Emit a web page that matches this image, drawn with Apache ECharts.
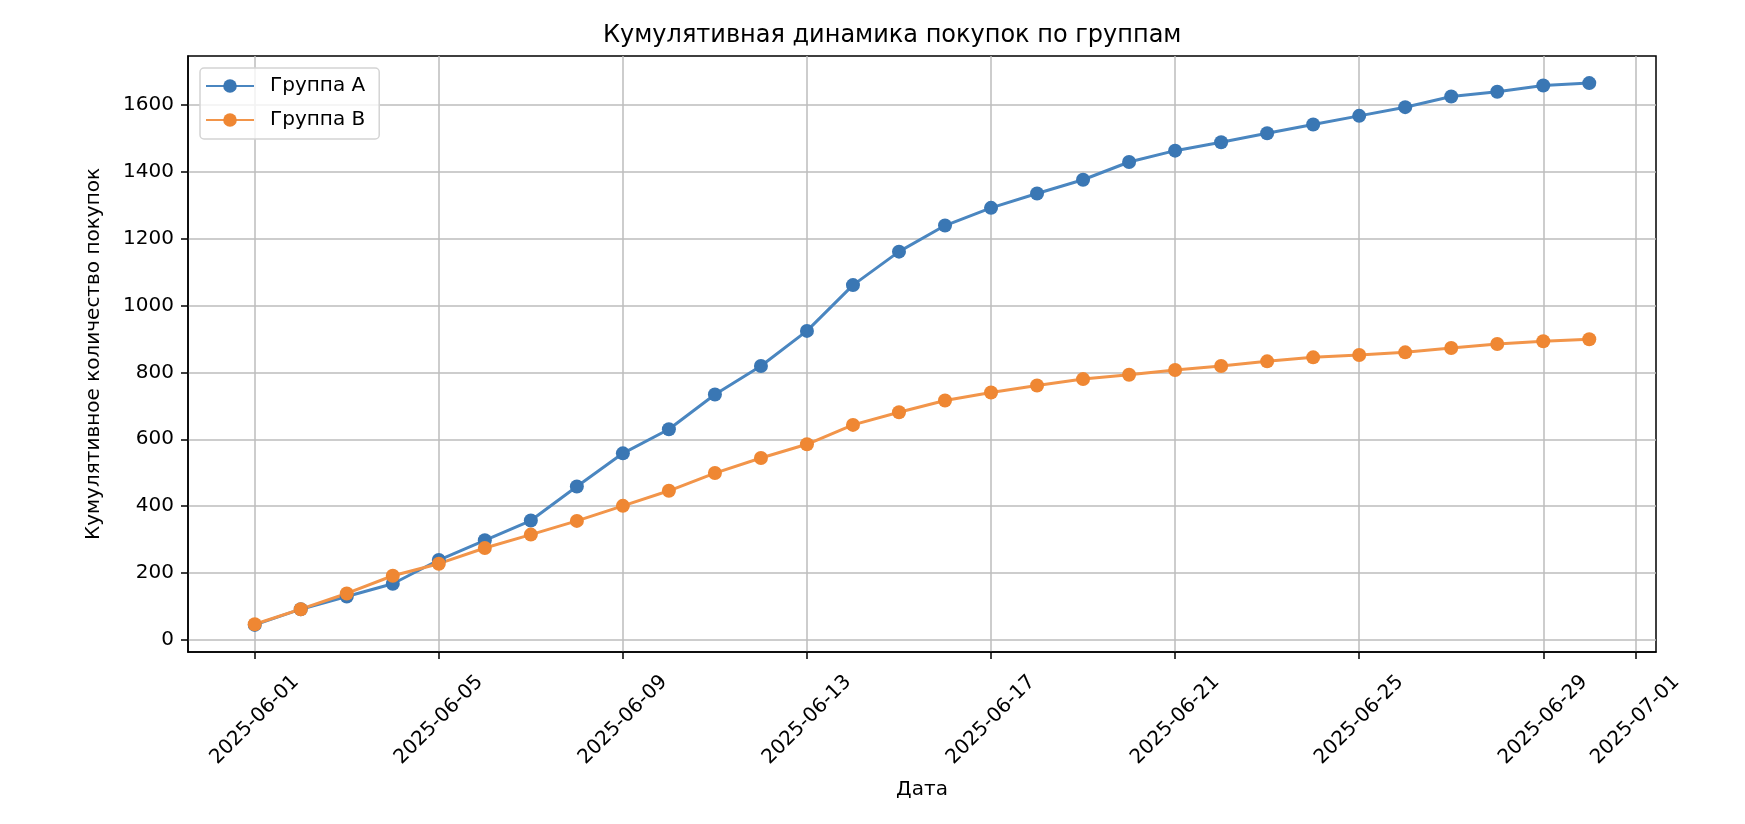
<!DOCTYPE html>
<html>
<head>
<meta charset="utf-8" />
<script src="https://cdn.jsdelivr.net/npm/echarts@6/dist/echarts.min.js"></script>
<title>Кумулятивная динамика покупок по группам</title>
<style>
  html, body { margin: 0; padding: 0; background: #fff; }
  #chart { width: 1745px; height: 824px; }
</style>
</head>
<body>
<div id="chart"></div>
<script>
// dates (one point per day)
var dates = [
  '2025-06-01','2025-06-02','2025-06-03','2025-06-04','2025-06-05','2025-06-06',
  '2025-06-07','2025-06-08','2025-06-09','2025-06-10','2025-06-11','2025-06-12',
  '2025-06-13','2025-06-14','2025-06-15','2025-06-16','2025-06-17','2025-06-18',
  '2025-06-19','2025-06-20','2025-06-21','2025-06-22','2025-06-23','2025-06-24',
  '2025-06-25','2025-06-26','2025-06-27','2025-06-28','2025-06-29','2025-06-30'
];
// cumulative purchases
var groupA = [45, 92, 130, 168, 239, 298, 357, 459, 558, 630, 734, 819, 924, 1061, 1161,
              1239, 1292, 1335, 1376, 1429, 1463, 1488, 1515, 1541, 1567, 1593, 1625, 1639, 1658, 1665];
var groupB = [47, 92, 139, 192, 228, 275, 315, 356, 401, 446, 499, 544, 585, 643, 681,
              716, 740, 761, 780, 793, 807, 819, 833, 845, 852, 860, 873, 885, 893, 899];
// tick labels
var xTicks = ['2025-06-01','2025-06-05','2025-06-09','2025-06-13','2025-06-17',
              '2025-06-21','2025-06-25','2025-06-29','2025-07-01'];
var yTicks = [0, 200, 400, 600, 800, 1000, 1200, 1400, 1600];

var FONT = 'DejaVu Sans';

// dates -> UTC timestamps, used on a plain value axis
function ts(d) { return Date.parse(d + 'T00:00:00Z'); }
function pairs(vals) {
  var out = [];
  for (var i = 0; i < dates.length; i++) out.push([ts(dates[i]), vals[i]]);
  return out;
}
var xTickValues = xTicks.map(ts);

var myChart = echarts.init(document.getElementById('chart'));
var option = {
  backgroundColor: '#fff',
  animation: false,
  title: {
    text: 'Кумулятивная динамика покупок по группам',
    left: 603,
    top: 24,
    padding: 0,
    textStyle: { fontFamily: FONT, fontSize: 24, fontWeight: 'normal', color: '#000' }
  },
  legend: {
    left: 200,
    top: 68,
    orient: 'vertical',
    padding: [7, 14, 8, 5],
    itemGap: 12,
    itemWidth: 48,
    itemHeight: 17,
    backgroundColor: 'rgba(255,255,255,0.8)',
    borderColor: '#d4d4d4',
    borderWidth: 1.5,
    borderRadius: 4,
    textStyle: { fontFamily: FONT, fontSize: 20, color: '#000', lineHeight: 22, padding: [0, 0, 0, 11] }
  },
  grid: {
    left: 188, right: 89, top: 56, bottom: 172,
    show: true, borderColor: '#000', borderWidth: 1.5,
    outerBoundsMode: 'none'
  },
  xAxis: {
    type: 'value',
    scale: true,
    min: function (e) { return e.min - 0.05 * (e.max - e.min); },
    max: function (e) { return e.max + 0.05 * (e.max - e.min); },
    name: 'Дата',
    nameLocation: 'middle',
    nameGap: 128,
    nameTextStyle: { fontFamily: FONT, fontSize: 20, color: '#000' },
    axisLine: { show: true, onZero: false, lineStyle: { color: '#000', width: 1.5 } },
    axisTick: { show: true, length: 7, customValues: xTickValues, lineStyle: { color: '#000', width: 1.5 } },
    axisLabel: {
      customValues: xTickValues,
      rotate: 45,
      align: 'center',
      verticalAlign: 'middle',
      margin: 68,
      fontFamily: FONT, fontSize: 20, color: '#000',
      formatter: function (v) { return new Date(v).toISOString().slice(0, 10); }
    },
    splitLine: { show: true, lineStyle: { color: '#bdbdbd', width: 1.5 } }
  },
  yAxis: {
    type: 'value',
    min: function (e) { return e.min - 0.05 * (e.max - e.min); },
    max: function (e) { return e.max + 0.05 * (e.max - e.min); },
    name: 'Кумулятивное количество покупок',
    nameLocation: 'middle',
    nameRotate: 90,
    nameGap: 84,
    nameTextStyle: { fontFamily: FONT, fontSize: 20, color: '#000' },
    axisLine: { show: true, onZero: false, lineStyle: { color: '#000', width: 1.5 } },
    axisTick: { show: true, length: 7, customValues: yTicks, lineStyle: { color: '#000', width: 1.5 } },
    axisLabel: {
      customValues: yTicks, margin: 14, fontFamily: FONT, fontSize: 20, color: '#000',
      formatter: function (v) { return String(v); }
    },
    splitLine: { show: true, lineStyle: { color: '#bdbdbd', width: 1.5 } }
  },
  series: [
    {
      name: 'Группа A',
      type: 'line',
      data: pairs(groupA),
      symbol: 'circle',
      symbolSize: 14,
      showAllSymbol: true,
      itemStyle: { color: '#3a77b4' },
      lineStyle: { color: '#4a86c0', width: 3 }
    },
    {
      name: 'Группа B',
      type: 'line',
      data: pairs(groupB),
      symbol: 'circle',
      symbolSize: 14,
      showAllSymbol: true,
      itemStyle: { color: '#ef8733' },
      lineStyle: { color: '#f2954a', width: 3 }
    }
  ]
};
myChart.setOption(option);
</script>
</body>
</html>
